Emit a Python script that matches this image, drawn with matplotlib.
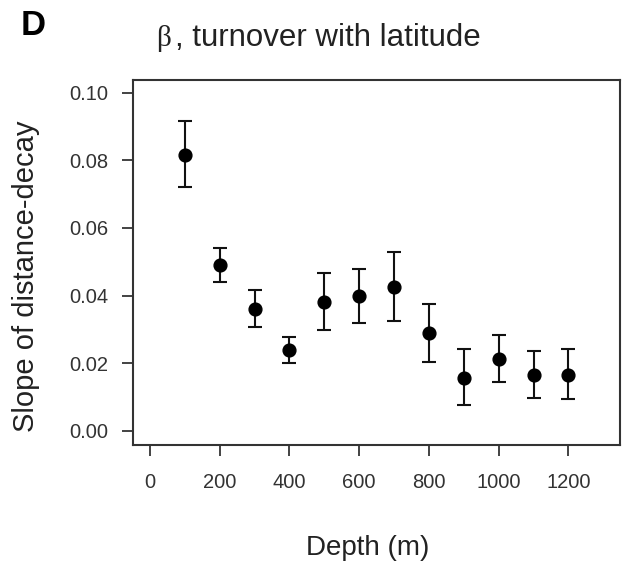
import matplotlib
matplotlib.use("Agg")
import matplotlib.pyplot as plt
import numpy as np

depth = [100, 200, 300, 400, 500, 600, 700, 800, 900, 1000, 1100, 1200]
slope = [0.0816, 0.0490, 0.0359, 0.0238, 0.0382, 0.0399, 0.0426, 0.0288, 0.0157, 0.0211, 0.0166, 0.0166]
upper = [0.0917, 0.0541, 0.0415, 0.0278, 0.0467, 0.0478, 0.0530, 0.0375, 0.0241, 0.0283, 0.0236, 0.0241]
lower = [0.0720, 0.0439, 0.0307, 0.0200, 0.0298, 0.0318, 0.0326, 0.0202, 0.0076, 0.0144, 0.0098, 0.0095]
xticks = [0, 200, 400, 600, 800, 1000, 1200]
yticks = [0.00, 0.02, 0.04, 0.06, 0.08, 0.10]

plt.rcParams['font.family'] = ['Liberation Sans', 'DejaVu Sans']

W, H = 624, 565
fig = plt.figure(figsize=(W / 100, H / 100), dpi=100)
L, R, T, B = 133, 620, 80, 445
ax = fig.add_axes([L / W, 1 - B / H, (R - L) / W, (B - T) / H])

s = np.array(slope)
yerr = np.vstack([s - np.array(lower), np.array(upper) - s])
ax.errorbar(depth, slope, yerr=yerr, fmt='o', color='black', markersize=9.2,
            elinewidth=1.5, capsize=4.8, capthick=1.5, ecolor='#111111')

ax.set_xlim(-48.7, 1347.7)
ax.set_ylim(-0.00423, 0.10376)
ax.set_xticks(xticks)
ax.set_xticklabels([str(v) for v in xticks])
ax.set_yticks(yticks)
ax.set_yticklabels([f"{v:.2f}" for v in yticks])

for sp in ax.spines.values():
    sp.set_linewidth(1.5)
    sp.set_color('#333333')

ax.tick_params(axis='both', length=8, width=1.2, color='#222222', labelsize=14.5, labelcolor='#333333')
ax.tick_params(axis='x', pad=12.5)
ax.tick_params(axis='y', pad=10)

# axis labels
fig.text(26 / W, 1 - 276 / H, "Slope of distance-decay", rotation=90, ha='center', va='center',
         fontsize=21, color='#222222')
fig.text(367.5 / W, 1 - 555 / H, "Depth (m)", ha='center', va='baseline', fontsize=20, color='#222222')

# panel letter and title
fig.text(21 / W, 1 - 35 / H, "D", ha='left', va='baseline', fontsize=25, fontweight='bold', color='black')
fig.text(156 / W, 1 - 46 / H, "β", ha='left', va='baseline', fontsize=21,
         family=['Liberation Serif', 'DejaVu Serif'], color='#222222')
fig.text(175 / W, 1 - 46 / H, ", turnover with latitude", ha='left', va='baseline', fontsize=22.5, color='#222222')

fig.savefig("out.png", dpi=100)
